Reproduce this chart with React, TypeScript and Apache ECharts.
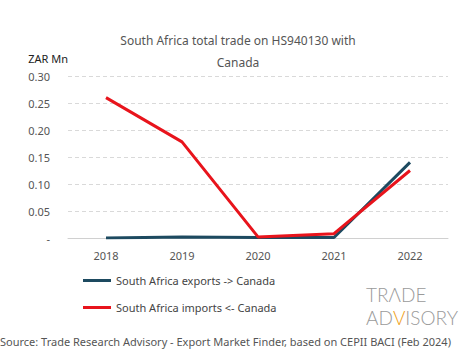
import React, { useEffect, useRef } from "react";
import * as echarts from "echarts";

const years = ["2018", "2019", "2020", "2021", "2022"];
const exportsToCanada = [0.0, 0.002, 0.001, 0.001, 0.14];
const importsFromCanada = [0.26, 0.178, 0.002, 0.008, 0.125];
const seriesNames = ["South Africa exports -> Canada", "South Africa imports <- Canada"];
const FONT = "'Noto Sans', 'DejaVu Sans', sans-serif";

export default function App() {
  const ref = useRef<HTMLDivElement>(null);
  useEffect(() => {
    const chart = echarts.init(ref.current!, null, { renderer: "svg" });
    chart.setOption({
      animation: false,
      backgroundColor: "#ffffff",
      title: {
        text: "South Africa total trade on HS940130 with\n\nCanada",
        left: 233,
        textAlign: "center",
        top: 30,
        textStyle: { fontFamily: FONT, fontSize: 12, fontWeight: "normal", color: "#555555", lineHeight: 11 },
      },
      grid: { left: 68, right: 17, top: 76, bottom: 121 },
      legend: {
        orient: "vertical",
        left: 78,
        top: 270,
        itemGap: 16,
        itemWidth: 28,
        itemHeight: 3,
        icon: "rect",
        textStyle: { fontFamily: FONT, fontSize: 11, color: "#444444" },
        data: seriesNames,
      },
      xAxis: {
        type: "category",
        data: years,
        boundaryGap: true,
        axisLine: { lineStyle: { color: "#d0d0d0" } },
        axisTick: { show: false },
        axisLabel: { fontFamily: FONT, fontSize: 11, color: "#555555", margin: 12 },
      },
      yAxis: {
        type: "value",
        min: 0,
        max: 0.3,
        interval: 0.05,
        name: "ZAR Mn",
        nameLocation: "end",
        nameGap: 12,
        nameTextStyle: { fontFamily: FONT, fontSize: 11, color: "#222222", align: "right", padding: [0, 0, 0, 0] },
        axisLine: { show: false },
        axisTick: { show: false },
        splitLine: { lineStyle: { color: "#d9d9d9", type: [4, 3] } },
        axisLabel: {
          fontFamily: FONT,
          fontSize: 11,
          color: "#555555",
          margin: 18,
          formatter: (v: number) => (v === 0 ? "-" : v.toFixed(2)),
        },
      },
      series: [
        {
          name: seriesNames[0],
          type: "line",
          data: exportsToCanada,
          symbol: "none",
          color: "#1d4a60",
          lineStyle: { width: 3, color: "#1d4a60" },
        },
        {
          name: seriesNames[1],
          type: "line",
          data: importsFromCanada,
          symbol: "none",
          color: "#e8141c",
          lineStyle: { width: 3, color: "#e8141c" },
        },
      ],
      graphic: [
        {
          type: "text",
          left: 0,
          top: 336,
          style: {
            text: "Source: Trade Research Advisory - Export Market Finder, based on CEPII BACI (Feb 2024)",
            font: `11px ${FONT}`,
            fill: "#555555",
          },
        },
        {
          type: "text",
          left: 366,
          top: 285,
          style: {
            text: "{g|TRΛDE}\n{g|AD}{o|V}{g|ISORY}",
            rich: {
              g: { font: `300 19px Lato, ${FONT}`, fill: "#9a9a9a", lineHeight: 23 },
              o: { font: `300 19px Lato, ${FONT}`, fill: "#f0a020", lineHeight: 23 },
            },
          },
        },
      ],
    });
    return () => chart.dispose();
  }, []);
  return <div ref={ref} style={{ width: 465, height: 359, position: "absolute", left: 0, top: 0 }} />;
}
